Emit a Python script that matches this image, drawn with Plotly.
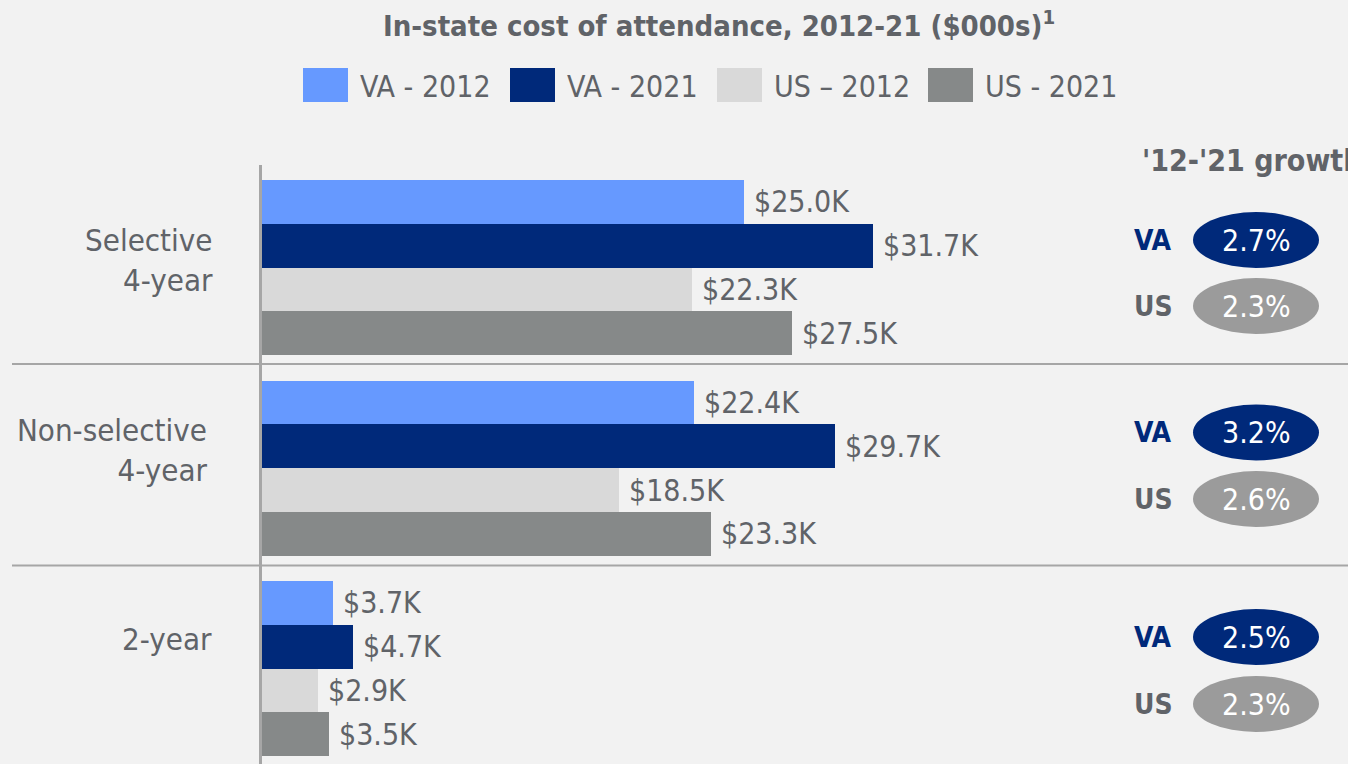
import plotly.graph_objects as go

# ---- data ($000s) ----
categories = ["Selective<br>4-year", "Non-selective<br>4-year", "2-year"]
series_names = ["VA - 2012", "VA - 2021", "US \u2013 2012", "US - 2021"]
va_2012 = [25.0, 22.4, 3.7]
va_2021 = [31.7, 29.7, 4.7]
us_2012 = [22.3, 18.5, 2.9]
us_2021 = [27.5, 23.3, 3.5]
growth_va = [2.7, 3.2, 2.5]
growth_us = [2.3, 2.6, 2.3]

# ---- styling / layout constants ----
W, H = 1348, 764
FONT = "DejaVu Sans Condensed, Noto Sans, sans-serif"
TEXT = "#606368"
NAVY = "#00297a"
colors = ["#6699ff", NAVY, "#d9d9d9", "#868989"]
BG = "#f2f2f2"
RULE = "#a6a6a6"

PX_PER_K = 19.28          # horizontal scale
X0_PX = 262               # pixel position of $0
SLOT_PX = 43.8            # bar thickness
GROUP_STEP = 200.5 / SLOT_PX
FIRST_BAR_PX = 201.9      # centre of the first bar

x_range = [-X0_PX / PX_PER_K, (W - X0_PX) / PX_PER_K]
y_range = [(H - FIRST_BAR_PX) / SLOT_PX, -FIRST_BAR_PX / SLOT_PX]


def px_x(x):
    return x / W


def px_y(y):
    return 1 - y / H


series = [va_2012, va_2021, us_2012, us_2021]
n_groups = len(categories)

fig = go.Figure()
for i, (name, vals, col) in enumerate(zip(series_names, series, colors)):
    ys = [g * GROUP_STEP + i for g in range(n_groups)]
    fig.add_trace(go.Bar(
        x=vals, y=ys, orientation="h", name=name, width=1,
        marker=dict(color=col, line=dict(width=0)),
        showlegend=False, hoverinfo="skip",
    ))

annotations = []
shapes = []

# value labels at the end of each bar
for i, vals in enumerate(series):
    for g, v in enumerate(vals):
        annotations.append(dict(
            x=v, y=g * GROUP_STEP + i, xref="x", yref="y",
            text=f"${v:.1f}K", showarrow=False, xanchor="left", yanchor="middle",
            xshift=8, font=dict(family=FONT, size=30, color=TEXT),
        ))

# category labels on the left
label_dy = [1.32, 1.09, 0.82]
label_right_px = [215, 209, 214]
for g, cat in enumerate(categories):
    annotations.append(dict(
        x=px_x(label_right_px[g]), xref="paper",
        y=g * GROUP_STEP + label_dy[g], yref="y",
        text=cat, showarrow=False, xanchor="right", yanchor="middle", align="right",
        font=dict(family=FONT, size=31, color=TEXT),
    ))

# title
annotations.append(dict(
    x=px_x(719), y=px_y(24), xref="paper", yref="paper",
    text="<b>In-state cost of attendance, 2012-21 ($000s)<sup>1</sup></b>",
    showarrow=False, xanchor="center", yanchor="middle",
    font=dict(family=FONT, size=29, color=TEXT),
))

# legend: coloured squares + text
legend_sq_px = [303, 510, 717, 928]
for name, col, sx in zip(series_names, colors, legend_sq_px):
    shapes.append(dict(type="rect", xref="paper", yref="paper",
                       x0=px_x(sx), x1=px_x(sx + 45), y0=px_y(102), y1=px_y(68),
                       fillcolor=col, line=dict(width=0)))
    annotations.append(dict(
        x=px_x(sx + 55), y=px_y(86), xref="paper", yref="paper", text=name,
        showarrow=False, xanchor="left", yanchor="middle",
        font=dict(family=FONT, size=30, color=TEXT),
    ))

# axis line and group separators
shapes.append(dict(type="line", xref="paper", yref="paper",
                   x0=px_x(260.5), x1=px_x(260.5), y0=px_y(165), y1=0,
                   line=dict(color=RULE, width=3)))
for sep in [364, 565.5]:
    shapes.append(dict(type="line", xref="paper", yref="paper",
                       x0=px_x(12), x1=1, y0=px_y(sep), y1=px_y(sep),
                       line=dict(color=RULE, width=2)))

# growth panel
annotations.append(dict(
    x=px_x(1140), y=px_y(160), xref="paper", yref="paper",
    text="<b>'12-'21 growth</b>", showarrow=False, xanchor="left", yanchor="middle",
    font=dict(family=FONT, size=30, color=TEXT),
))
growth_rows_px = [(240, 306), (432.5, 499), (637, 704)]
ELL_CX, ELL_W, ELL_H = 1256, 126, 56
for g in range(n_groups):
    for (lab, val, fill, lab_col), cy in zip(
            [("VA", growth_va[g], NAVY, NAVY), ("US", growth_us[g], "#9b9b9b", TEXT)],
            growth_rows_px[g]):
        shapes.append(dict(type="circle", xref="paper", yref="paper",
                           x0=px_x(ELL_CX - ELL_W / 2), x1=px_x(ELL_CX + ELL_W / 2),
                           y0=px_y(cy + ELL_H / 2), y1=px_y(cy - ELL_H / 2),
                           fillcolor=fill, line=dict(width=0)))
        annotations.append(dict(
            x=px_x(ELL_CX), y=px_y(cy), xref="paper", yref="paper",
            text=f"{val:.1f}%", showarrow=False, xanchor="center", yanchor="middle",
            font=dict(family=FONT, size=30, color="white"),
        ))
        annotations.append(dict(
            x=px_x(1132), y=px_y(cy), xref="paper", yref="paper",
            text=f"<b>{lab}</b>", showarrow=False, xanchor="left", yanchor="middle",
            font=dict(family=FONT, size=28, color=lab_col),
        ))

fig.update_layout(
    width=W, height=H,
    margin=dict(l=0, r=0, t=0, b=0),
    paper_bgcolor=BG, plot_bgcolor=BG,
    barmode="overlay", bargap=0,
    xaxis=dict(range=x_range, visible=False, fixedrange=True),
    yaxis=dict(range=y_range, visible=False, fixedrange=True),
    annotations=annotations, shapes=shapes,
    showlegend=False,
)

fig.write_html("out.html", config={"displayModeBar": False})
